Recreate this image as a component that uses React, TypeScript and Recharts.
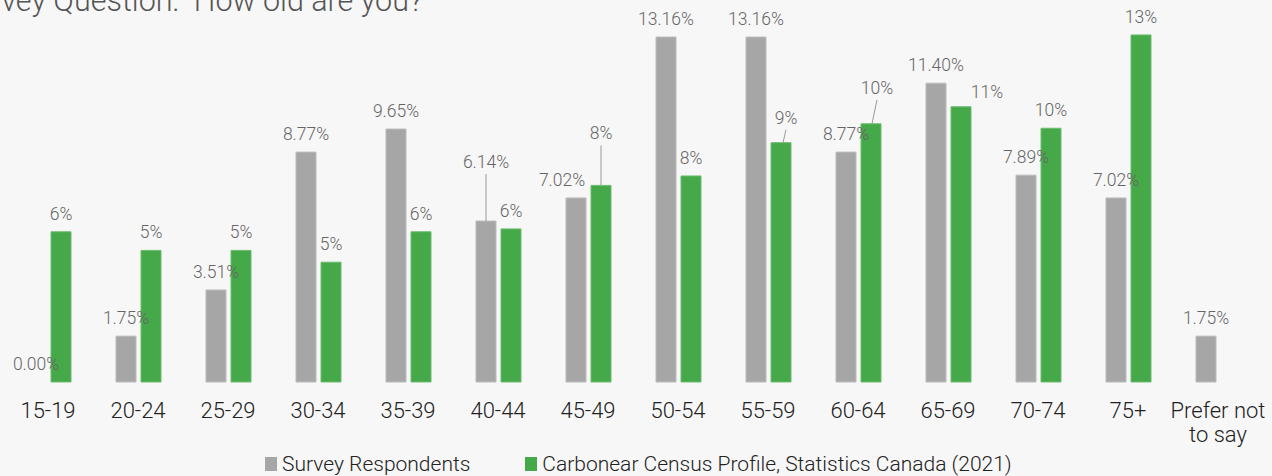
import React from "react";
import { BarChart, Bar, XAxis, YAxis, LabelList, Legend, Cell } from "recharts";

const ageGroups = [
  "15-19", "20-24", "25-29", "30-34", "35-39", "40-44", "45-49",
  "50-54", "55-59", "60-64", "65-69", "70-74", "75+", "Prefer not\nto say",
];
const surveyPct = [0, 1.75, 3.51, 8.77, 9.65, 6.14, 7.02, 13.16, 13.16, 8.77, 11.4, 7.89, 7.02, 1.75];
const censusPct = [5.73, 5.02, 5.02, 4.57, 5.73, 5.84, 7.5, 7.86, 9.13, 9.85, 10.5, 9.68, 13.24, null];

const data = ageGroups.map((age, i) => ({ age, survey: surveyPct[i], census: censusPct[i] }));

const FONT = "Roboto, 'Liberation Sans', sans-serif";
const GRAY = "#a6a6a6";
const GREEN = "#45a849";

// label nudges (pixels), leader = draw a thin line back to the bar
type Nudge = { dx?: number; dy?: number; leader?: boolean; sx?: number };
const surveyNudges: Record<number, Nudge> = {
  5: { dy: -41, leader: true },
  6: { dx: -14 },
};
const censusNudges: Record<number, Nudge> = {
  6: { dy: -34, leader: true },
  8: { dx: 5, dy: -7, leader: true, sx: 2 },
  9: { dx: 6, dy: -18, leader: true, sx: 1 },
  10: { dx: 26, dy: 3 },
};

const makeLabel = (nudges: Record<number, Nudge>, fmt: (v: number) => string) => (props: any) => {
  const { x, y, width, height, value, index } = props;
  if (value === null || value === undefined) return null;
  const t = nudges[index] || {};
  const cx = Number(x) + Number(width) / 2;
  // zero bars get a 1px min size, so measure from the baseline
  const top = Number(value) === 0 ? Number(y) + Number(height) : Number(y);
  const lx = cx + (t.dx || 0);
  const ly = top - 12 + (t.dy || 0);
  return (
    <g>
      {t.leader && (
        <line x1={cx + (t.sx || 0)} y1={top} x2={lx} y2={ly + 6} stroke="#999" strokeWidth={1} />
      )}
      <text x={lx} y={ly} textAnchor="middle" fill="#666" fontSize={17.5} fontFamily={FONT} fontWeight={300}>
        {fmt(Number(value))}
      </text>
    </g>
  );
};

const AgeTick = (props: any) => {
  const { x, y, payload } = props;
  const lines = String(payload.value).split("\n");
  return (
    <text x={x} y={y} textAnchor="middle" fill="#222" fontSize={22} fontFamily={FONT} fontWeight={300}>
      {lines.map((l, i) => (
        <tspan key={i} x={x} dy={i === 0 ? 36 : 24}>{l}</tspan>
      ))}
    </text>
  );
};

const LegendBox = () => (
  <div
    style={{
      height: 24,
      display: "flex",
      alignItems: "center",
      paddingLeft: 262,
      fontFamily: FONT,
      fontWeight: 300,
      fontSize: 21,
      color: "#222",
      lineHeight: "24px",
      whiteSpace: "nowrap",
    }}
  >
    <span style={{ width: 12, height: 14, background: GRAY, marginRight: 5 }} />
    <span>Survey Respondents</span>
    <span style={{ width: 12, height: 14, background: GREEN, marginLeft: 55, marginRight: 5 }} />
    <span>Carbonear Census Profile, Statistics Canada (2021)</span>
  </div>
);

export default function App() {
  return (
    <div style={{ position: "relative", width: 1272, height: 476, background: "#f7f7f7", overflow: "hidden" }}>
      <style>{"body{margin:0}"}</style>
      <div
        style={{
          position: "absolute",
          left: -44,
          top: -14,
          fontFamily: FONT,
          fontWeight: 300,
          fontSize: 30.5,
          lineHeight: "30px",
          color: "#555",
          whiteSpace: "pre",
        }}
      >
        {"Survey Question:  How old are you?"}
      </div>
      <BarChart
        width={1272}
        height={476}
        data={data}
        margin={{ top: 15, right: 9, bottom: 0, left: 3 }}
        barSize={20}
        barGap={5}
      >
        <XAxis
          dataKey="age"
          interval={0}
          axisLine={false}
          tickLine={false}
          tickSize={0}
          tickMargin={0}
          height={70}
          tick={<AgeTick />}
        />
        <YAxis hide domain={[0, 14]} />
        <Legend verticalAlign="bottom" height={24} content={<LegendBox />} />
        <Bar
          dataKey="survey"
          name="Survey Respondents"
          fill={GRAY}
          stroke="#bcbcbc"
          strokeWidth={1}
          minPointSize={(v: number) => (v === 0 ? 1 : 0)}
          isAnimationActive={false}
        >
          {surveyPct.map((v, i) => (
            <Cell key={i} fillOpacity={v === 0 ? 0 : 1} strokeOpacity={v === 0 ? 0 : 1} />
          ))}
          <LabelList dataKey="survey" content={makeLabel(surveyNudges, (v) => v.toFixed(2) + "%")} />
        </Bar>
        <Bar
          dataKey="census"
          name="Carbonear Census Profile, Statistics Canada (2021)"
          fill={GREEN}
          stroke="#6cbd6f"
          strokeWidth={1}
          isAnimationActive={false}
        >
          <LabelList dataKey="census" content={makeLabel(censusNudges, (v) => Math.round(v) + "%")} />
        </Bar>
      </BarChart>
    </div>
  );
}
